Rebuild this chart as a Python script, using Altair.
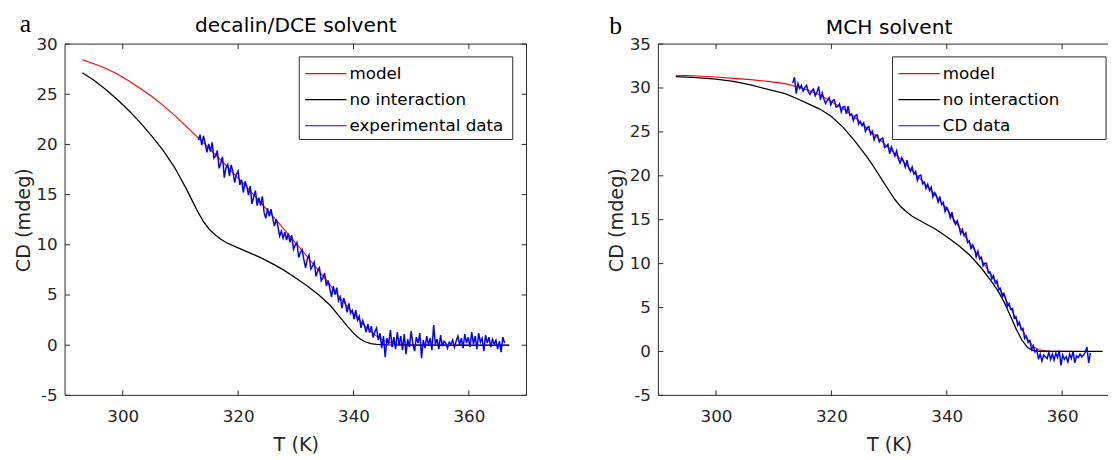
import altair as alt
import numpy as np
import pandas as pd

FONT = "DejaVu Sans"
SERIF = "Liberation Serif"
AX = "#262626"
COLORS = ["#ff0000", "#000000", "#0000ff"]

X_DOMAIN = [290, 370]
X_TICKS = [300, 320, 340, 360]

# ---------------- panel a : decalin/DCE ----------------
A_TITLE = "decalin/DCE solvent"
A_LETTER = "a"
A_LABELS = ["model", "no interaction", "experimental data"]
A_Y_DOMAIN = [-5, 30]
A_Y_TICKS = [-5, 0, 5, 10, 15, 20, 25, 30]

A_MODEL_T = [293, 295, 297, 299, 301, 303, 305, 307, 309, 311, 313, 315, 317, 319, 321, 323, 325, 327, 329, 331,
             333, 335, 337, 338, 339, 340, 341, 342, 343, 344, 345, 346, 347, 348, 350, 353, 356, 360, 364, 367]
A_MODEL_CD = [28.45, 28.05, 27.6, 27.05, 26.35, 25.6, 24.8, 23.9, 22.9, 21.8, 20.7, 19.6, 18.45, 17.25, 16.05, 14.8,
              13.5, 12.2, 10.85, 9.5, 8.1, 6.7, 5.2, 4.5, 3.8, 3.15, 2.5, 1.9, 1.35, 0.9, 0.55, 0.3, 0.17, 0.1, 0.04,
              0.01, 0, 0, 0, 0]

A_NOINT_T = [293, 295, 297, 299, 301, 303, 305, 307, 309, 311, 312, 313, 314, 315, 316, 317, 318, 320, 322, 324,
             326, 328, 330, 332, 334, 336, 338, 339, 340, 341, 342, 343, 344, 346, 350, 355, 360, 367]
A_NOINT_CD = [27.15, 26.4, 25.5, 24.5, 23.4, 22.2, 20.85, 19.4, 17.7, 15.6, 14.45, 13.3, 12.3, 11.55, 11.0, 10.55,
              10.2, 9.7, 9.2, 8.7, 8.1, 7.45, 6.7, 5.9, 5.0, 3.95, 2.55, 1.85, 1.2, 0.68, 0.34, 0.16, 0.08, 0.02, 0,
              0, 0, 0]

A_DATA_T0 = 313.1
A_DATA_DT = 0.3
A_DATA_CD = [
    20.45, 20.98, 19.92, 20.85, 20.09, 19.22, 20.05, 19.29, 20.21, 18.64,
    18.87, 19.4, 17.62, 18.15, 18.77, 16.69, 17.71, 18.03, 16.85, 17.97,
    17.29, 16.21, 17.03, 17.35, 15.97, 16.49, 15.21, 16.33, 15.84, 14.95,
    15.86, 14.08, 14.79, 15.4, 13.9, 14.71, 13.91, 14.82, 13.23, 12.63,
    13.64, 12.84, 13.55, 12.65, 11.86, 12.56, 11.87, 10.87, 11.36, 10.66,
    11.26, 10.46, 11.15, 10.25, 10.95, 9.55, 9.95, 10.24, 8.74, 9.24,
    9.53, 8.52, 7.71, 8.6, 8.99, 7.58, 7.87, 8.26, 6.85, 7.44,
    7.73, 6.42, 6.71, 7.2, 5.88, 6.45, 5.63, 4.8, 5.88, 5.05,
    5.73, 4.42, 4.81, 3.7, 4.69, 4.18, 3.27, 4.17, 3.18, 3.48,
    2.59, 3.5, 2.5, 2.9, 1.72, 2.44, 1.96, 1.29, 2.13, 1.26,
    1.9, 0.77, 1.33, 1.7, 0.5, 1.19, -0.3, 0.9, -1.2, 0.7,
    0.1, 1.5, -0.2, 0.8, -0.4, 1.3, 0.0, 0.9, -0.5, 1.1,
    -0.9, 0.6, -0.2, 1.4, 0.1, -0.6, 0.8, 0.2, 1.2, -1.3,
    0.5, -0.3, 0.9, 0.0, 0.7, -0.5, 2.0, 0.1, 0.6, -0.4,
    1.0, -0.1, 0.4, 0.2, -0.3, 0.3, 0.1, 0.5, -0.2, 0.4,
    0.9, 0.0, 0.7, -0.3, 1.1, 0.2, 0.8, -0.2, 1.3, 0.1,
    0.9, -0.4, 1.2, 0.3, 0.7, -0.6, 1.0, 0.2, 0.8, -0.2,
    0.6, 0.1, 0.5, -0.4, 0.4, -0.7, 0.8, 0.2,
]

# ---------------- panel b : MCH ----------------
B_TITLE = "MCH solvent"
B_LETTER = "b"
B_LABELS = ["model", "no interaction", "CD data"]
B_Y_DOMAIN = [-5, 35]
B_Y_TICKS = [-5, 0, 5, 10, 15, 20, 25, 30, 35]

B_MODEL_T = [293, 296, 300, 303, 306, 309, 312, 314, 316, 318, 320, 322, 324, 326, 328, 330, 332, 334, 336, 338,
             340, 342, 344, 346, 348, 350, 351, 352, 353, 354, 355, 356, 357, 358, 360, 363, 367]
B_MODEL_CD = [31.45, 31.4, 31.25, 31.1, 30.95, 30.75, 30.5, 30.15, 29.75, 29.2, 28.45, 27.65, 26.7, 25.5, 24.35,
              23.15, 21.9, 20.6, 19.25, 17.8, 16.2, 14.3, 12.3, 10.45, 8.45, 6.2, 5.0, 3.75, 2.55, 1.4, 0.55, 0.2,
              0.08, 0.03, 0.01, 0, 0]

B_NOINT_T = [293, 296, 300, 303, 306, 309, 312, 314, 316, 318, 320, 322, 324, 326, 327, 328, 329, 330, 331, 332,
             333, 334, 336, 338, 340, 342, 344, 346, 348, 349, 350, 351, 352, 353, 354, 355, 356, 358, 360, 367]
B_NOINT_CD = [31.3, 31.2, 31.0, 30.75, 30.35, 29.85, 29.35, 28.8, 28.2, 27.6, 26.75, 25.55, 24.0, 22.3, 21.35,
              20.35, 19.3, 18.3, 17.3, 16.5, 15.9, 15.4, 14.65, 13.95, 13.05, 12.1, 10.95, 9.5, 7.75, 6.75, 5.55,
              4.1, 2.6, 1.3, 0.45, 0.1, 0.02, 0, 0, 0]

B_DATA_T0 = 313.3
B_DATA_DT = 0.3
B_DATA_CD = [
    30.57, 31.22, 29.37, 30.51, 29.95, 30.29, 29.63, 30.07, 30.31, 29.55,
    29.27, 29.69, 29.9, 29.12, 29.54, 30.16, 28.66, 29.45, 28.74, 28.23,
    28.61, 28.9, 28.09, 28.57, 28.65, 27.83, 27.91, 28.19, 27.27, 27.85,
    27.91, 27.07, 27.92, 26.88, 27.04, 26.3, 26.84, 26.96, 25.88, 26.2,
    25.72, 26.04, 25.06, 25.49, 25.61, 24.74, 25.07, 24.1, 24.62, 24.65,
    23.87, 24.19, 24.31, 23.23, 23.35, 23.57, 22.49, 23.3, 22.81, 22.23,
    22.84, 21.95, 21.46, 22.07, 21.68, 20.98, 21.79, 20.89, 20.5, 21.0,
    20.2, 20.5, 19.49, 19.99, 20.09, 19.09, 19.28, 18.56, 19.04, 18.33,
    18.71, 17.59, 18.07, 17.74, 17.0, 17.66, 16.72, 16.98, 15.94, 16.4,
    16.02, 15.23, 15.85, 14.86, 14.48, 14.89, 14.3, 13.4, 13.9, 13.2,
    13.5, 12.4, 12.6, 11.72, 12.14, 11.66, 10.78, 11.41, 10.53, 10.75,
    9.75, 10.05, 10.05, 8.95, 9.05, 8.25, 8.64, 7.8, 8.06, 7.03,
    7.19, 6.25, 6.61, 6.06, 5.1, 5.44, 4.78, 4.9, 3.83, 3.95,
    2.99, 3.33, 2.47, 2.62, 1.48, 1.73, 1.02, 1.26, 0.21, 0.65,
    -0.05, 0.2, -0.9, -0.3, -1.1, -0.4, -0.6, -0.8, -0.1, -0.9,
    -0.3, -1.0, -0.2, -0.7, 0.1, -1.6, -0.4, -0.9, -0.6, -1.2,
    -0.3, -0.8, 0.0, -1.3, -0.5, -0.7, -0.3, -0.6, -0.4, -0.1,
    0.5, -1.3, -0.2,
]

# ---------------- layout constants (pixels) ----------------
FULL_W = 469
PLOT_H = 357
B_W = 457
TICK_PX = 5
SPACING = 81
LEG_X0, LEG_X1, LEG_Y0, LEG_Y1 = 238, 455, 13, 97
LEG_LX0, LEG_LX1, LEG_TX = 244, 286, 289
LEG_ROWS = [30, 56.5, 83]
TITLE_DY = 49


def build_panel(title, letter, labels, y_domain, y_ticks, model_T, model_CD, noint_T, noint_CD,
                data_T0, data_dT, data_CD, width, full_frame, letter_x, letter_y):
    x_max = X_DOMAIN[0] + (X_DOMAIN[1] - X_DOMAIN[0]) * width / FULL_W
    xs = alt.Scale(domain=[X_DOMAIN[0], x_max], nice=False, zero=False)
    ys = alt.Scale(domain=y_domain, nice=False, zero=False)
    x_axis = alt.Axis(values=X_TICKS, ticks=False, domain=False, grid=False, labelFlush=False,
                      labelFont=FONT, labelFontSize=17, labelColor=AX, labelPadding=14,
                      labelExpr="datum.value", title="T (K)", titleFont=FONT, titleFontSize=19.5,
                      titleFontWeight="normal", titleColor=AX, titleBaseline="alphabetic",
                      titleX=FULL_W / 2, titleY=56)
    y_axis = alt.Axis(values=y_ticks, ticks=False, domain=False, grid=False,
                      labelFont=FONT, labelFontSize=17, labelColor=AX, labelPadding=8,
                      labelExpr="datum.value", title="CD (mdeg)", titleFont=FONT, titleFontSize=19.5,
                      titleFontWeight="normal", titleColor=AX, titleBaseline="alphabetic",
                      titleX=-36, titleY=PLOT_H / 2)

    dx_tick = TICK_PX * (X_DOMAIN[1] - X_DOMAIN[0]) / FULL_W
    dy_tick = TICK_PX * (y_domain[1] - y_domain[0]) / PLOT_H
    x0, y0, y1 = X_DOMAIN[0], y_domain[0], y_domain[1]
    segs = [(x0, x_max, y0, y0), (x0, x_max, y1, y1), (x0, x0, y0, y1)]
    if full_frame:
        segs.append((X_DOMAIN[1], X_DOMAIN[1], y0, y1))
    for t in X_TICKS:
        segs.append((t, t, y0, y0 + dy_tick))
        segs.append((t, t, y1, y1 - dy_tick))
    for t in y_ticks:
        segs.append((x0, x0 + dx_tick, t, t))
        if full_frame:
            segs.append((X_DOMAIN[1], X_DOMAIN[1] - dx_tick, t, t))
    frame_df = pd.DataFrame(segs, columns=["x", "x2", "y", "y2"])

    frame = alt.Chart(frame_df).mark_rule(color=AX, strokeWidth=1).encode(
        x=alt.X("x:Q", scale=xs, axis=x_axis), x2="x2:Q",
        y=alt.Y("y:Q", scale=ys, axis=y_axis), y2="y2:Q")

    data_T = [round(data_T0 + data_dT * i, 2) for i in range(len(data_CD))]
    series = [
        (pd.DataFrame({"T": model_T, "CD": model_CD}), COLORS[0], 1.1),
        (pd.DataFrame({"T": noint_T, "CD": noint_CD}), COLORS[1], 1.3),
        (pd.DataFrame({"T": data_T, "CD": data_CD}), COLORS[2], 1.5),
    ]
    lines = [
        alt.Chart(df).mark_line(color=col, strokeWidth=sw, clip=True).encode(
            x=alt.X("T:Q", scale=xs, axis=x_axis), y=alt.Y("CD:Q", scale=ys, axis=y_axis))
        for df, col, sw in series
    ]

    legend = [alt.Chart(pd.DataFrame({"k": [0]})).mark_rect(fill="white", stroke=AX, strokeWidth=1).encode(
        x=alt.value(LEG_X0), x2=alt.value(LEG_X1), y=alt.value(LEG_Y0), y2=alt.value(LEG_Y1))]
    for lab, col, ry in zip(labels, COLORS, LEG_ROWS):
        ldf = pd.DataFrame({"label": [lab]})
        legend.append(alt.Chart(ldf).mark_rule(color=col, strokeWidth=1.2).encode(
            x=alt.value(LEG_LX0), x2=alt.value(LEG_LX1), y=alt.value(ry)))
        legend.append(alt.Chart(ldf).mark_text(align="left", baseline="middle", font=FONT, fontSize=17,
                                               color="black").encode(
            x=alt.value(LEG_TX), y=alt.value(ry), text="label:N"))

    letter_layer = alt.Chart(pd.DataFrame({"letter": [letter]})).mark_text(
        align="left", baseline="alphabetic", font=SERIF, fontSize=26, color="black").encode(
        x=alt.value(letter_x), y=alt.value(letter_y), text="letter:N")

    return alt.layer(frame, *lines, *legend, letter_layer).properties(
        width=width, height=PLOT_H,
        title=alt.TitleParams(text=title, font=FONT, fontSize=20.5, fontWeight="normal", color="black",
                              anchor="middle", frame="group", baseline="alphabetic", offset=8,
                              dx=(FULL_W - width) / 2, dy=TITLE_DY))


left = build_panel(A_TITLE, A_LETTER, A_LABELS, A_Y_DOMAIN, A_Y_TICKS, A_MODEL_T, A_MODEL_CD,
                   A_NOINT_T, A_NOINT_CD, A_DATA_T0, A_DATA_DT, A_DATA_CD, FULL_W, True, -46, -12)
right = build_panel(B_TITLE, B_LETTER, B_LABELS, B_Y_DOMAIN, B_Y_TICKS, B_MODEL_T, B_MODEL_CD,
                    B_NOINT_T, B_NOINT_CD, B_DATA_T0, B_DATA_DT, B_DATA_CD, B_W, False, -50, -10)

chart = alt.hconcat(left, right, spacing=SPACING).resolve_scale(
    x="independent", y="independent").properties(
    padding={"left": 6, "top": 0, "right": 0, "bottom": 0},
    background="white").configure_view(stroke=None)

chart.save("out.html", embed_options={"renderer": "svg", "actions": False})
